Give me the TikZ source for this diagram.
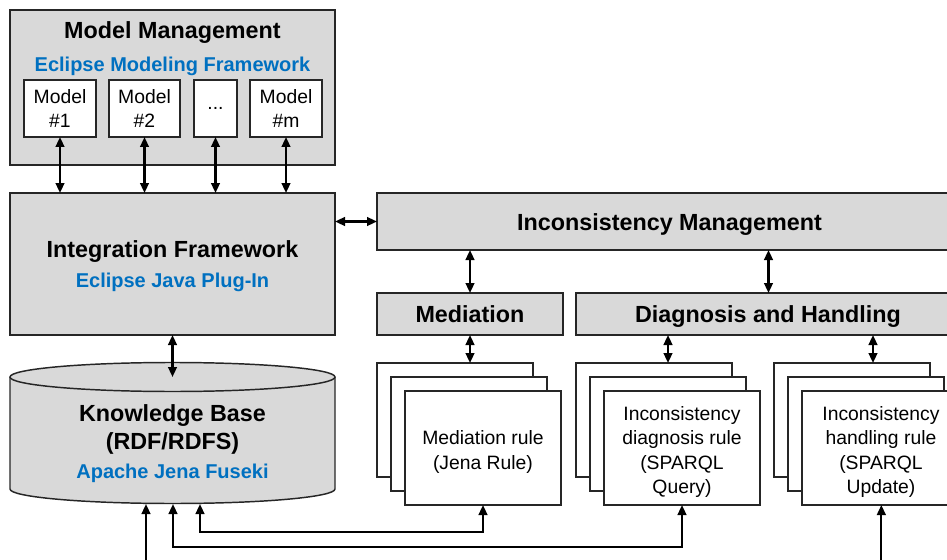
\documentclass[tikz,border=0pt]{standalone}
\usepackage{fontspec}
\setmainfont{Liberation Sans}
\usetikzlibrary{arrows.meta,calc}
\definecolor{boxgray}{HTML}{D9D9D9}
\definecolor{linkblue}{HTML}{0070C0}

\begin{document}
\begin{tikzpicture}[x=0.75pt,y=0.75pt,
  graybox/.style={draw=black!85, fill=boxgray, line width=1.1pt, inner sep=0pt, outer sep=0pt},
  whitebox/.style={draw=black!85, fill=white, line width=1pt, inner sep=0pt, outer sep=0pt,
    align=center, font=\fontsize{14.5}{18.2}\selectfont},
  title/.style={font=\bfseries\fontsize{17.5}{21}\selectfont, anchor=base, inner sep=0pt},
  subtitle/.style={font=\bfseries\fontsize{15}{18}\selectfont, text=linkblue, anchor=base, inner sep=0pt},
  modelbox/.style={whitebox, minimum height=42.75pt},
  stackbox/.style={whitebox, minimum width=117pt, minimum height=85.5pt},
  ruletext/.style={align=center, inner sep=0pt, font=\fontsize{14.5}{18.2}\selectfont},
  link/.style={line width=1.6pt, {Triangle[length=7.5pt,width=6.5pt]}-{Triangle[length=7.5pt,width=6.5pt]}},
  feed/.style={line width=1.6pt, -{Triangle[length=7.5pt,width=6.5pt]}}
]
\useasboundingbox (0,0) rectangle (947,-560);
\clip (0,0) rectangle (947,-560);

% ---- Model management ----
\node[graybox, minimum width=243.75pt, minimum height=116.25pt] (mm) at (172.5,-87.5) {};
\node[title] (mmtitle) at (172.5,-39) {Model Management};
\node[subtitle] (mmtool) at (172.5,-72) {Eclipse Modeling Framework};
\node[modelbox, minimum width=54pt] (m1) at (60,-108.5) {Model\\\#1};
\node[modelbox, minimum width=53.25pt] (m2) at (144.5,-108.5) {Model\\\#2};
\node[modelbox, minimum width=32.25pt] (m3) at (215.5,-108.5) {...};
\node[modelbox, minimum width=54pt] (m4) at (286,-108.5) {Model\\\#m};

% ---- Integration framework ----
\node[graybox, minimum width=243.75pt, minimum height=106.5pt] (if) at (172.5,-264) {};
\node[title] (iftitle) at (172.5,-257) {Integration Framework};
\node[subtitle] (iftool) at (172.5,-287) {Eclipse Java Plug-In};

% ---- Knowledge base (cylinder) ----
\fill[boxgray] (10,-377) -- (10,-489)
  arc[start angle=180, end angle=360, x radius=121.875pt, y radius=10.875pt]
  -- (335,-377)
  arc[start angle=0, end angle=180, x radius=121.875pt, y radius=10.875pt] -- cycle;
\draw[line width=1.1pt, draw=black!85] (10,-377) -- (10,-489)
  arc[start angle=180, end angle=360, x radius=121.875pt, y radius=10.875pt]
  -- (335,-377);
\draw[line width=1.1pt, draw=black!85] (172.5,-377) ellipse [x radius=121.875pt, y radius=10.875pt];
\coordinate (kbtop) at (172.5,-377);
\coordinate (kbb1) at (146,-504);
\coordinate (kbb2) at (173,-504);
\coordinate (kbb3) at (200,-504);
\node[title] (kbtitle) at (172.5,-421) {Knowledge Base};
\node[title] (kbformat) at (172.5,-449) {(RDF/RDFS)};
\node[subtitle] (kbtool) at (172.5,-478) {Apache Jena Fuseki};

% ---- Inconsistency management ----
\node[graybox, minimum width=438pt, minimum height=42.75pt] (im) at (669,-221.5) {};
\node[title] (imtitle) at (669.5,-230) {Inconsistency Management};
\node[graybox, minimum width=139.5pt, minimum height=31.5pt] (med) at (470,-314) {};
\node[title] (medtitle) at (470,-322) {Mediation};
\node[graybox, minimum width=288.75pt, minimum height=31.5pt] (diag) at (768.5,-314) {};
\node[title] (diagtitle) at (768,-322) {Diagnosis and Handling};

% ---- Rule stacks ----
\node[stackbox] (medback) at (455,-420) {};
\node[stackbox] (medmid) at (469,-434) {};
\node[stackbox] (medfront) at (483,-448) {};
\node[ruletext] (medtext) at ($(medfront.center)+(0,-4)$) {Mediation rule\\(Jena Rule)};
\node[stackbox] (diagback) at (654,-420) {};
\node[stackbox] (diagmid) at (668,-434) {};
\node[stackbox] (diagfront) at (682,-448) {};
\node[ruletext] (diagtext) at ($(diagfront.center)+(0,-4)$) {Inconsistency\\diagnosis rule\\(SPARQL\\Query)};
\node[stackbox] (handback) at (852,-420) {};
\node[stackbox] (handmid) at (866,-434) {};
\node[stackbox] (handfront) at (880,-448) {};
\node[ruletext] (handtext) at ($(handfront.center)+(1,-4)$) {Inconsistency\\handling rule\\(SPARQL\\Update)};

% ---- Connectors ----
\foreach \m in {m1,m2,m3,m4}
  \draw[link] (\m.south) -- (\m.south |- if.north);
\draw[link] (if.east |- im.west) -- (im.west);
\draw[link] (if.south) -- (kbtop);
\draw[link] (med.north) -- (med.north |- im.south);
\draw[link] (diag.north) -- (diag.north |- im.south);
\draw[link] (med.south) -- (med.south |- medback.north);
\draw[link] (diagmid.north |- diag.south) -- (diagmid.north |- diagback.north);
\coordinate (hx) at ([xshift=5.25pt]handmid.north);
\draw[link] (hx |- diag.south) -- (hx |- handback.north);

\coordinate (inA) at (146,-566);
\coordinate (inB) at ([xshift=1pt]handfront.south |- inA);
\draw[feed] (inA) -- (kbb1);
\draw[feed] (inB) -- ([xshift=1pt]handfront.south);
\draw[link] (kbb2) |- ($(diagfront.south)+(0,-42)$) -- (diagfront.south);
\draw[link] (kbb3) |- ($(medfront.south)+(0,-27)$) -- (medfront.south);
\end{tikzpicture}
\end{document}
